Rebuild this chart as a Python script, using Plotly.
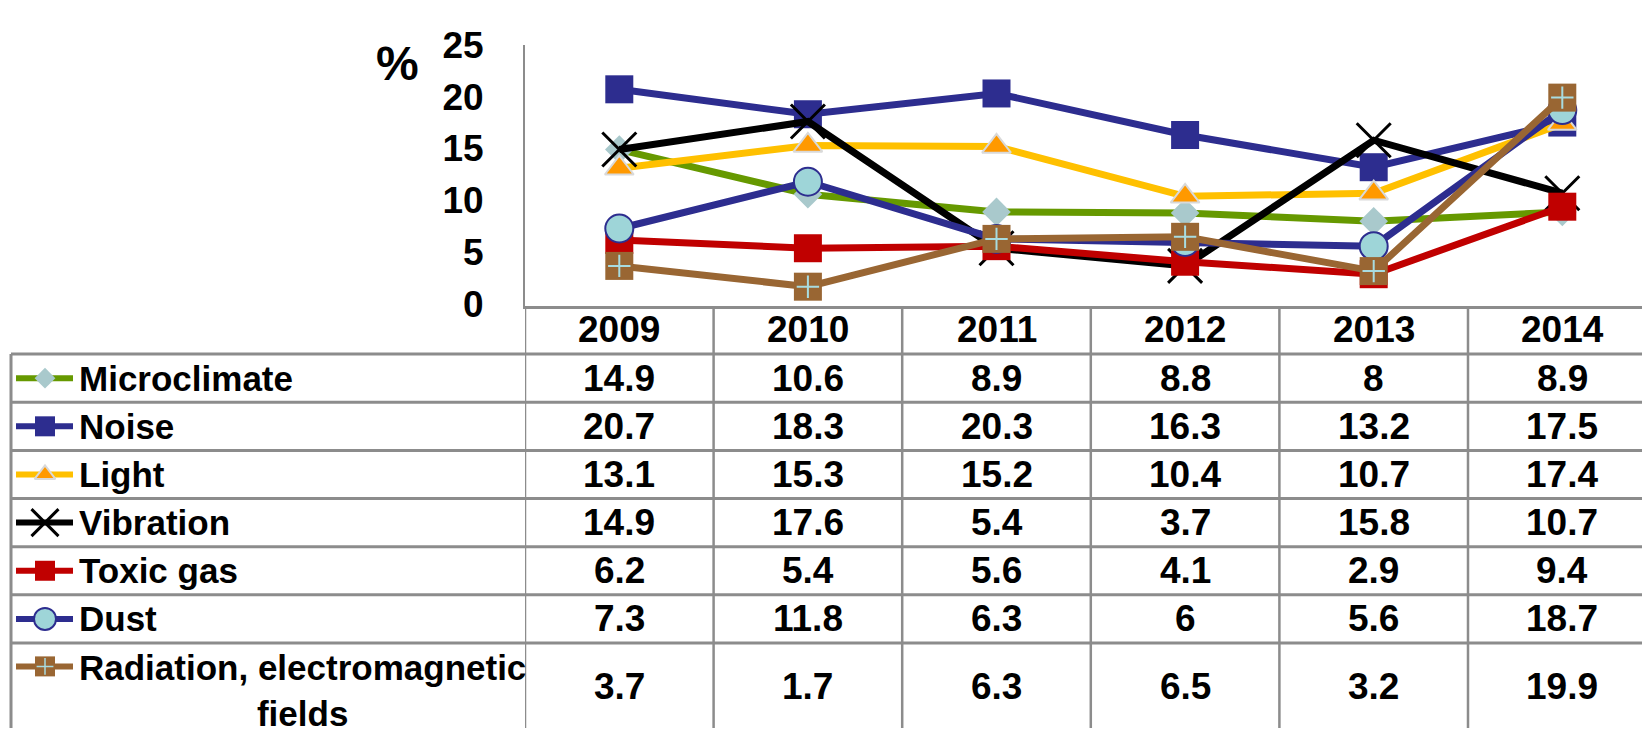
import plotly.graph_objects as go

# ---- data ----
years = ["2009", "2010", "2011", "2012", "2013", "2014"]
series_names = ["Microclimate", "Noise", "Light", "Vibration", "Toxic gas", "Dust",
                "Radiation, electromagnetic<br>fields"]
microclimate = [14.9, 10.6, 8.9, 8.8, 8, 8.9]
noise = [20.7, 18.3, 20.3, 16.3, 13.2, 17.5]
light = [13.1, 15.3, 15.2, 10.4, 10.7, 17.4]
vibration = [14.9, 17.6, 5.4, 3.7, 15.8, 10.7]
toxic_gas = [6.2, 5.4, 5.6, 4.1, 2.9, 9.4]
dust = [7.3, 11.8, 6.3, 6, 5.6, 18.7]
radiation = [3.7, 1.7, 6.3, 6.5, 3.2, 19.9]
y_ticks = [0, 5, 10, 15, 20, 25]

all_values = [microclimate, noise, light, vibration, toxic_gas, dust, radiation]

# ---- layout constants (reference pixels, turned into paper fractions) ----
W, H = 1642, 747
PLOT_LEFT = 525
COL_W = 188.6
Y0_PX, Y25_PX = 300, 26
TABLE_LEFT = 11
ROW_TOP = 352.5
ROW_H = 50.8
GRID = "#8c8c8c"
FONT = "Liberation Sans, Arial, sans-serif"

def py(px):
    return 1 - px / H

styles = [
    dict(line="#669900", marker=dict(symbol="diamond", size=22, color="#a9c9cc")),
    dict(line="#2d2d8f", marker=dict(symbol="square", size=28, color="#2d2d8f")),
    dict(line="#ffc000", marker=dict(symbol="triangle-up", size=25, color="#ff9900",
                                     line=dict(color="#d9d9d9", width=2))),
    dict(line="#000000", marker=dict(symbol="x-thin", size=34, color="#000000",
                                     line=dict(color="#000000", width=3))),
    dict(line="#c00000", marker=dict(symbol="square", size=28, color="#c00000")),
    dict(line="#2d2d8f", marker=dict(symbol="circle", size=28, color="#9ed5d8",
                                     line=dict(color="#2d2d8f", width=2))),
    dict(line="#996633", marker=dict(symbol="square", size=28, color="#996633")),
]
legend_sizes = [16, 20, 18, 27, 20, 22, 20]
cross = dict(symbol="cross-thin", size=16, color="#a8dce0", line=dict(color="#a8dce0", width=2))

fig = go.Figure()
for name, vals, st in zip(series_names, all_values, styles):
    fig.add_trace(go.Scatter(x=years, y=vals, mode="lines+markers", name=name,
                             line=dict(color=st["line"], width=7), marker=st["marker"],
                             showlegend=False, cliponaxis=False))
fig.add_trace(go.Scatter(x=years, y=radiation, mode="markers", marker=cross,
                         showlegend=False, cliponaxis=False))

# legend icons inside the table (axis in reference pixels)
row_centers = [ROW_TOP + ROW_H * (i + 0.5) for i in range(6)] + [682]
for i, st in enumerate(styles):
    yc = row_centers[i]
    m = dict(st["marker"], size=legend_sizes[i])
    fig.add_trace(go.Scatter(x=[16, 73], y=[yc, yc], mode="lines", xaxis="x2", yaxis="y2",
                             line=dict(color=st["line"], width=6), showlegend=False))
    fig.add_trace(go.Scatter(x=[45], y=[yc], mode="markers", xaxis="x2", yaxis="y2",
                             marker=m, showlegend=False))
fig.add_trace(go.Scatter(x=[45], y=[row_centers[6]], mode="markers", xaxis="x2", yaxis="y2",
                         marker=dict(cross, size=12, line=dict(color="#a8dce0", width=1.5)),
                         showlegend=False))

shapes = []
# horizontal table lines
for i in range(7):
    yl = ROW_TOP + ROW_H * i
    shapes.append(dict(type="line", xref="paper", yref="paper", x0=TABLE_LEFT / W, x1=1,
                       y0=py(yl), y1=py(yl), line=dict(color=GRID, width=3)))
# left border of table
shapes.append(dict(type="line", xref="paper", yref="paper", x0=TABLE_LEFT / W, x1=TABLE_LEFT / W,
                   y0=py(ROW_TOP), y1=0, line=dict(color=GRID, width=3)))
# column dividers below the x axis
for k in range(len(years)):
    shapes.append(dict(type="line", xref="x", yref="paper", x0=k - 0.5, x1=k - 0.5,
                       y0=py(302), y1=0, line=dict(color=GRID, width=2.5)))

num_font = dict(family=FONT, size=37, color="black", weight="bold")
lab_font = dict(family=FONT, size=35, color="black", weight="bold")
annotations = []
for k, yr in enumerate(years):
    annotations.append(dict(x=k, xref="x", y=py(327), yref="paper",
                            text=yr, showarrow=False, font=num_font,
                            xanchor="center", yanchor="middle"))
for i, (name, vals) in enumerate(zip(series_names, all_values)):
    last = i == len(series_names) - 1
    yc = 703 if last else row_centers[i]
    annotations.append(dict(x=77 / W, xref="paper", y=py(661 if last else row_centers[i]),
                            yref="paper", text=name, showarrow=False, xanchor="left",
                            align="center", yanchor="top" if last else "middle", font=lab_font))
    for k, v in enumerate(vals):
        annotations.append(dict(x=k, xref="x", y=py(yc), yref="paper", text=f"{v:g}",
                                showarrow=False, font=num_font, xanchor="center", yanchor="middle"))
annotations.append(dict(x=397 / W, xref="paper", y=py(46), yref="paper", text="%", showarrow=False,
                        xanchor="center", yanchor="middle",
                        font=dict(family=FONT, size=48, color="black", weight="bold")))

ncols = (W - PLOT_LEFT) / COL_W
fig.update_layout(
    margin=dict(l=0, r=0, t=0, b=0),
    plot_bgcolor="rgba(0,0,0,0)", paper_bgcolor="white",
    xaxis=dict(type="category", domain=[PLOT_LEFT / W, 1], range=[-0.5, -0.5 + ncols],
               showticklabels=False, showgrid=False, zeroline=False,
               showline=True, linecolor=GRID, linewidth=3, anchor="y"),
    yaxis=dict(domain=[py(302), py(Y25_PX)], range=[-(302 - Y0_PX) / ((Y0_PX - Y25_PX) / 25), 25],
               tickvals=y_ticks,
               showgrid=False, zeroline=False, showline=True, linecolor=GRID, linewidth=2,
               ticks="outside", ticklen=32, tickcolor="rgba(0,0,0,0)",
               tickfont=dict(family=FONT, size=37, color="black", weight="bold"), anchor="x"),
    xaxis2=dict(domain=[0, 1], range=[0, W], visible=False, anchor="y2"),
    yaxis2=dict(domain=[0, 1], range=[H, 0], visible=False, anchor="x2"),
    shapes=shapes, annotations=annotations,
)

# figure fills the browser window; no body margin, no modebar
fig.write_html("out.html", config={"displayModeBar": False},
               default_width="100vw", default_height="100vh",
               post_script="document.body.style.margin='0';document.body.style.overflow='hidden';")
